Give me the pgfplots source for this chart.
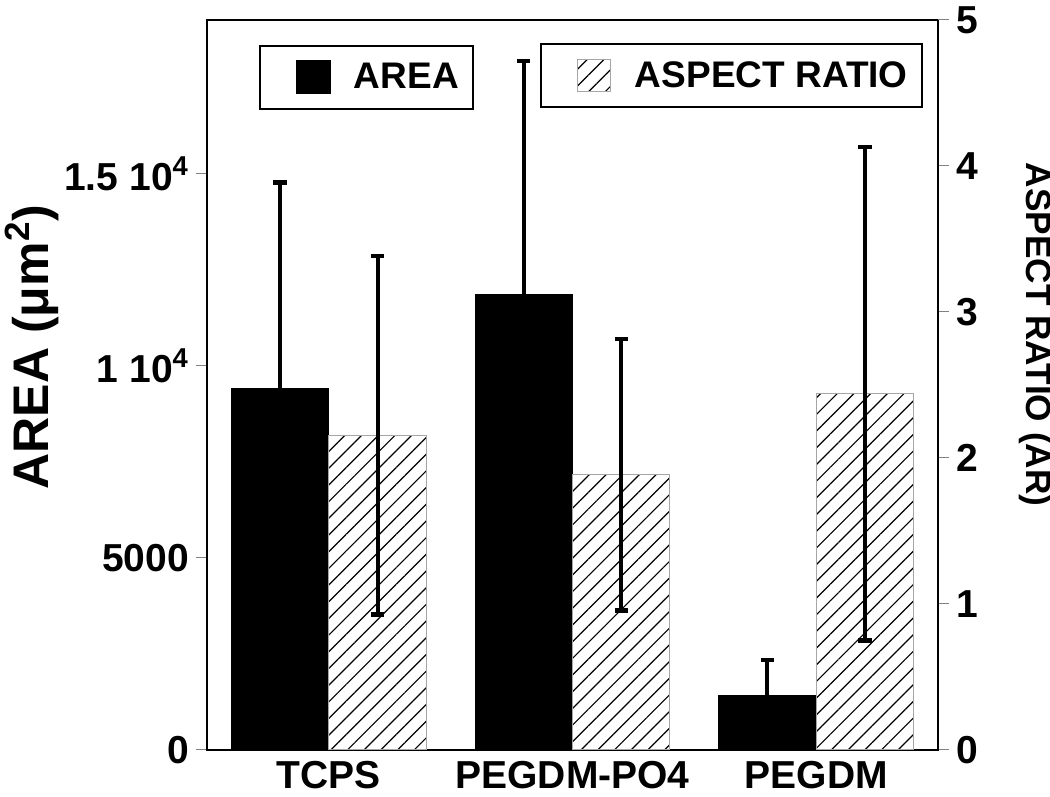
\documentclass[border=0pt]{standalone}
\usepackage{fontspec}
\setmainfont{Liberation Sans}
\usepackage{pgfplots}
\pgfplotsset{compat=1.18}
\usetikzlibrary{patterns.meta}
\newcommand{\tickfont}{\fontsize{19.5}{22}\selectfont\bfseries}
\newcommand{\legspace}{\pgfpathrectangle{\pgfpoint{-11.5pt}{-15.75pt}}{\pgfpoint{40pt}{31.5pt}}\pgfusepath{discard}}
\tikzset{hatch/.style={pattern={Lines[angle=45,distance=5.9pt,line width=0.6pt]},pattern color=black}}
\begin{document}
\begin{tikzpicture}
\pgfplotsset{
  common/.style={
    scale only axis, width=365.5pt, height=365pt,
    xmin=0.5, xmax=3.5,
    ybar, bar width=0.4, bar shift=0pt,
    tick align=outside, major tick length=5.5pt,
    tick style={gray, line width=0.5pt},
    tick label style={font=\tickfont},
    axis line style={line width=1.3pt},
    /pgf/number format/assume math mode=true,
    legend style={draw=black, line width=1pt, inner xsep=7pt, inner ysep=0pt,
      nodes={inner sep=0pt}, font=\fontsize{18.5}{20}\selectfont\bfseries, anchor=north west},
    legend cell align=left,
  }
}
% ---- left axis: AREA
\begin{axis}[common,
  ymin=0, ymax=19000,
  tick pos=left,
  xtick={1,2,3}, xticklabels={TCPS,PEGDM-PO4,PEGDM},
  xtick style={draw=none},
  xticklabel style={yshift=3.5pt},
  extra x ticks={0.5,1.5,2.5,3.5}, extra x tick labels={},
  extra x tick style={tick style={gray, line width=0.5pt}},
  ytick={0,5000,10000,15000},
  yticklabels={0,5000,{1 10\textsuperscript{4}},{1.5 10\textsuperscript{4}}},
  ylabel={AREA (μm\textsuperscript{2})},
  ylabel style={font=\fontsize{25}{28}\selectfont\bfseries, at={(axis description cs:-0.2394,0.552)}, anchor=center},
  legend style={at={(0.071,0.966)}},
  legend image code/.code={\legspace\fill[black] (0pt,-8pt) rectangle (16.5pt,8pt);},
]
\addplot[fill=black, draw=black,
  error bars/.cd, y dir=plus, y explicit,
  error bar style={line width=2pt, black},
  error mark options={rotate=90, line width=2.2pt, mark size=3.3pt, black}]
  coordinates {(0.8,9400) +- (0,5373) (1.8,11850) +- (0,6075) (2.8,1430) +- (0,912)};
\addlegendentry{AREA}
\end{axis}
% ---- right axis: ASPECT RATIO
\begin{axis}[common,
  ymin=0, ymax=5,
  axis x line=none, axis y line*=right,
  ytick={0,1,2,3,4,5}, yticklabels={0,1,2,3,4,5},
  ylabel={ASPECT RATIO (AR)},
  ylabel style={font=\fontsize{17.6}{20}\selectfont\bfseries, at={(axis description cs:1.133,0.569)}, anchor=center, rotate=180},
  legend style={at={(0.4555,0.968)}},
  legend image code/.code={\legspace\draw[gray!70, line width=0.5pt, hatch] (0pt,-8pt) rectangle (16.5pt,8pt);},
]
\addplot[draw=gray!70, line width=0.5pt, hatch,
  error bars/.cd, y dir=both, y explicit,
  error bar style={line width=2pt, black, solid},
  error mark options={rotate=90, line width=2.2pt, mark size=3.3pt, black}]
  coordinates {(1.2,2.155) +- (0,1.228) (2.2,1.885) +- (0,0.93) (3.2,2.44) +- (0,1.69)};
\addlegendentry{ASPECT RATIO}
\end{axis}
\pgfresetboundingbox
\useasboundingbox (-103.5pt,-23.5pt) rectangle (421.5pt,375pt);
\end{tikzpicture}
\end{document}
